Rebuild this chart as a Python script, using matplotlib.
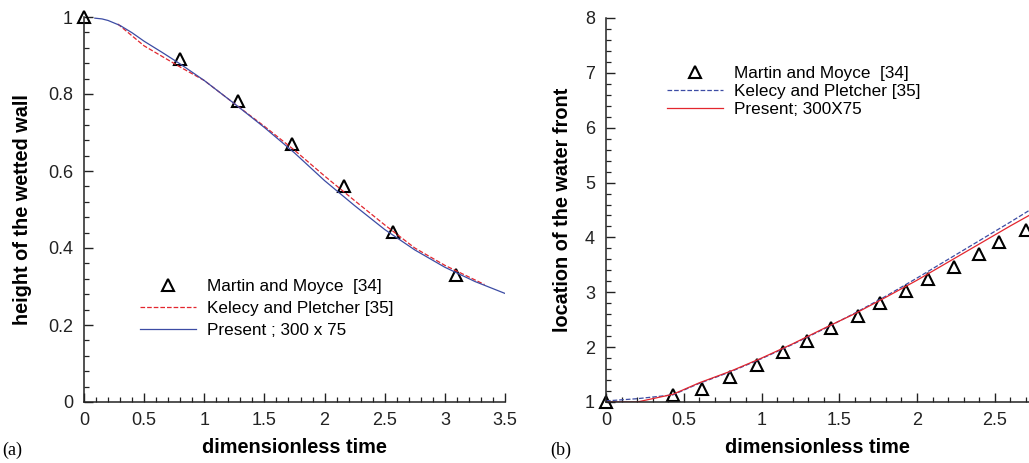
import matplotlib
matplotlib.use("Agg")
import matplotlib.pyplot as plt
from matplotlib.ticker import MultipleLocator

plt.rcParams['font.family'] = ['Liberation Sans', 'DejaVu Sans']

# (a) height of the wetted wall
mm_t_a = [0.0, 0.80, 1.28, 1.73, 2.16, 2.57, 3.09]
mm_h_a = [1.0, 0.891, 0.781, 0.671, 0.562, 0.442, 0.331]

kp_t_a = [0.28, 0.5, 0.8, 1.0, 1.25, 1.5, 1.75, 2.0, 2.25, 2.5, 2.75, 3.0, 3.33]
kp_h_a = [0.982, 0.925, 0.87, 0.835, 0.775, 0.716, 0.654, 0.587, 0.523, 0.46, 0.40, 0.355, 0.305]

pr_t_a = [0.09, 0.15, 0.2, 0.3, 0.4, 0.5, 0.65, 0.8, 1.0, 1.25, 1.5, 1.75, 2.0, 2.25, 2.5, 2.75, 3.0, 3.25, 3.5]
pr_h_a = [0.997, 0.995, 0.991, 0.978, 0.959, 0.937, 0.908, 0.878, 0.835, 0.775, 0.713, 0.647, 0.575,
          0.51, 0.448, 0.395, 0.35, 0.313, 0.282]

# (b) location of the water front
mm_t_b = [0.0, 0.43, 0.62, 0.80, 0.97, 1.14, 1.29, 1.45, 1.62, 1.76, 1.93, 2.07, 2.24, 2.40, 2.53, 2.70]
mm_z_b = [1.0, 1.12, 1.24, 1.46, 1.68, 1.91, 2.12, 2.35, 2.57, 2.80, 3.02, 3.24, 3.47, 3.69, 3.91, 4.13]

kp_t_b = [0.0, 0.2, 0.43, 0.6, 0.8, 1.0, 1.2, 1.4, 1.6, 1.8, 2.0, 2.2, 2.4, 2.6, 2.72]
kp_z_b = [1.02, 1.06, 1.13, 1.34, 1.55, 1.79, 2.05, 2.33, 2.62, 2.93, 3.26, 3.60, 3.94, 4.28, 4.49]

pr_t_b = [0.0, 0.2, 0.43, 0.6, 0.8, 1.0, 1.2, 1.4, 1.6, 1.8, 2.0, 2.2, 2.4, 2.6, 2.72]
pr_z_b = [1.0, 1.0, 1.14, 1.35, 1.56, 1.80, 2.06, 2.34, 2.61, 2.91, 3.22, 3.55, 3.88, 4.21, 4.40]

RED = '#e3262e'
BLUE = '#3c4ca4'

fig = plt.figure(figsize=(10.29, 4.63), dpi=100)
ax1 = fig.add_axes([84/1029, 1-402/463, 421/1029, 385/463])
ax2 = fig.add_axes([606/1029, 1-402/463, 423/1029, 384/463])

# open triangles for the experiment
tri = dict(marker='^', ls='none', mfc='none', mec='black', mew=1.5, ms=8.5, clip_on=False)

ax1.plot(mm_t_a, mm_h_a, label='Martin and Moyce  [34]', **tri)
ax1.plot(kp_t_a, kp_h_a, '--', color=RED, lw=0.9, label='Kelecy and Pletcher [35]')
ax1.plot(pr_t_a, pr_h_a, '-', color=BLUE, lw=0.9, label='Present ; 300 x 75')
ax1.set_xlim(0, 3.5)
ax1.set_ylim(0, 1)
ax1.xaxis.set_minor_locator(MultipleLocator(0.1))
ax1.yaxis.set_minor_locator(MultipleLocator(0.04))
ax1.set_xticks([0, 0.5, 1, 1.5, 2, 2.5, 3, 3.5])
ax1.set_xticklabels(['0', '0.5', '1', '1.5', '2', '2.5', '3', '3.5'])
ax1.set_yticks([0, 0.2, 0.4, 0.6, 0.8, 1])
ax1.set_yticklabels(['0', '0.2', '0.4', '0.6', '0.8', '1'])
ax1.set_xlabel('dimensionless time', fontsize=14.3, fontweight='bold', labelpad=7)
ax1.set_ylabel('height of the wetted wall', fontsize=14.3, fontweight='bold', labelpad=11)
ax1.legend(loc='upper left', bbox_to_anchor=(140/1029, 1-279/463), bbox_transform=fig.transFigure,
           frameon=False, fontsize=12.3, handlelength=3.3, handletextpad=0.65,
           labelspacing=0.42, borderpad=0, borderaxespad=0)

ax2.plot(mm_t_b, mm_z_b, label='Martin and Moyce  [34]', **tri)
ax2.plot(kp_t_b, kp_z_b, '--', color=BLUE, lw=0.9, label='Kelecy and Pletcher [35]')
ax2.plot(pr_t_b, pr_z_b, '-', color=RED, lw=0.9, label='Present; 300X75')
ax2.set_xlim(0, 2.72)
ax2.set_ylim(1, 8)
ax2.xaxis.set_minor_locator(MultipleLocator(0.1))
ax2.yaxis.set_major_locator(MultipleLocator(1))
ax2.yaxis.set_minor_locator(MultipleLocator(0.2))
ax2.set_xticks([0, 0.5, 1, 1.5, 2, 2.5])
ax2.set_xticklabels(['0', '0.5', '1', '1.5', '2', '2.5'])
ax2.set_xlabel('dimensionless time', fontsize=14.3, fontweight='bold', labelpad=7)
ax2.set_ylabel('location of the water front', fontsize=14.3, fontweight='bold', labelpad=9)
ax2.legend(loc='upper left', bbox_to_anchor=(667/1029, 1-66/463), bbox_transform=fig.transFigure,
           frameon=False, fontsize=12.3, handlelength=3.3, handletextpad=0.6,
           labelspacing=0.18, borderpad=0, borderaxespad=0)

for ax in (ax1, ax2):
    ax.spines['top'].set_visible(False)
    ax.spines['right'].set_visible(False)
    for s in ('left', 'bottom'):
        ax.spines[s].set_linewidth(1.1)
        ax.spines[s].set_color('#222222')
    ax.tick_params(which='major', direction='in', length=6.5, width=1.0, labelsize=13, pad=7, colors='#222222')
    ax.tick_params(which='minor', direction='in', length=3.5, width=0.9, colors='#222222')
    ax.tick_params(axis='y', which='major', pad=8)

fig.text(2/1029, 1-450/463, '(a)', fontsize=13, family='Liberation Serif', va='center', ha='left')
fig.text(550/1029, 1-450/463, '(b)', fontsize=13, family='Liberation Serif', va='center', ha='left')

fig.savefig('out.png', dpi=100)
